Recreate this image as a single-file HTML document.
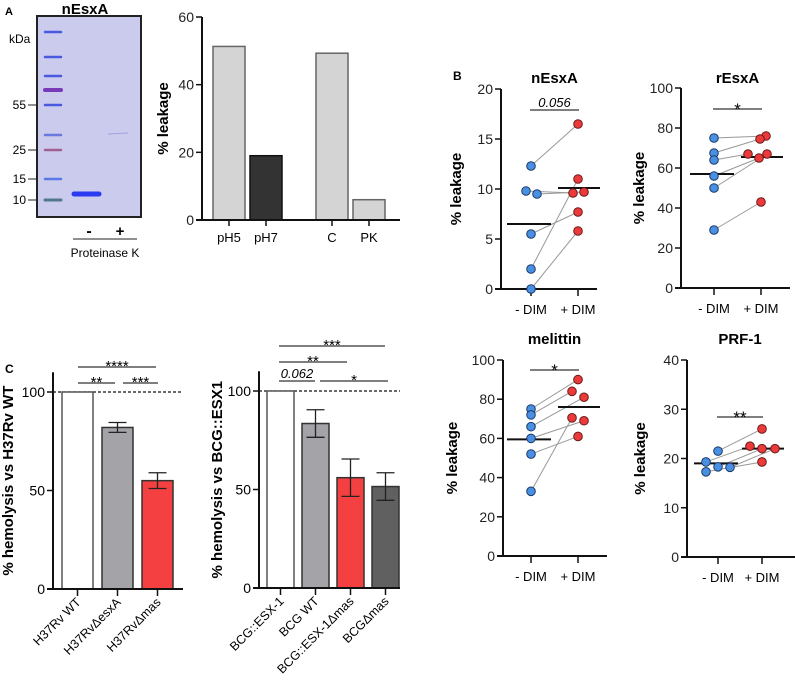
<!DOCTYPE html>
<html><head><meta charset="utf-8"><style>
body{margin:0;background:#fff}
svg{display:block;font-family:"Liberation Sans",Arial,sans-serif}
</style></head><body>
<svg id="fig" width="795" height="682" viewBox="0 0 795 682" xmlns="http://www.w3.org/2000/svg">
<g id="gel">
<text x="5" y="15" font-size="11" font-weight="bold">A</text>
<text x="85" y="14" font-size="15" font-weight="bold" text-anchor="middle">nEsxA</text>
<rect x="37" y="16" width="104" height="201" fill="#cbcbee" stroke="#222" stroke-width="2"/>
<text x="9" y="43" font-size="12">kDa</text>
<g stroke="#4a5ae0" stroke-width="2.5" stroke-linecap="round">
<line x1="45" y1="32" x2="61" y2="32"/><line x1="45" y1="57" x2="61" y2="57"/><line x1="45" y1="76" x2="61" y2="76"/>
<line x1="45" y1="90" x2="61" y2="90" stroke="#7a3ab8" stroke-width="4"/><line x1="45" y1="105" x2="61" y2="105"/>
<line x1="45" y1="135" x2="61" y2="135" stroke="#6a78e0"/><line x1="45" y1="150" x2="61" y2="150" stroke="#a06090"/>
<line x1="45" y1="179" x2="61" y2="179" stroke="#5a78e8"/><line x1="45" y1="200" x2="61" y2="200" stroke="#507890" stroke-width="3"/>
</g>
<line x1="74" y1="194" x2="99" y2="194" stroke="#2a3af0" stroke-width="5" stroke-linecap="round"/>
<line x1="108" y1="134" x2="128" y2="133" stroke="#a0a0e0" stroke-width="1"/>
<g font-size="12" text-anchor="end">
<text x="26" y="109">55</text><text x="26" y="154">25</text><text x="26" y="183">15</text><text x="26" y="204">10</text>
<g stroke="#222"><line x1="28" y1="105" x2="36" y2="105"/><line x1="28" y1="150" x2="36" y2="150"/><line x1="28" y1="179" x2="36" y2="179"/><line x1="28" y1="200" x2="36" y2="200"/></g>
</g>
<text x="89" y="236" font-size="16" font-weight="bold" text-anchor="middle">-</text>
<text x="120" y="236" font-size="15" font-weight="bold" text-anchor="middle">+</text>
<line x1="73" y1="239" x2="137" y2="239" stroke="#222"/>
<text x="105" y="257" font-size="12" text-anchor="middle">Proteinase K</text>
</g>
<g id="charts"></g>
</svg>
<script>
// Panel A bar chart
const aCats=["pH5","pH7","C","PK"];
const aVals=[51.3,19,49.3,6];
// Panel B
const bTitles=["nEsxA","rEsxA","melittin","PRF-1"];
const nMinus=[12.3,9.8,9.5,5.5,2,0];
const nPlus=[16.5,9.6,9.7,7.7,11,5.8];
const rMinus=[75,67.5,64,56,50,29];
const rPlus=[76,74.5,67,65,67,43];
const mMinus=[75,72,66,60,52,33];
const mPlus=[90,84,81,69,61,70.5];
const pMinus=[21.5,19.3,18.3,18.2,17.3];
const pPlus=[26,22.5,22,22,19.3];
const bMeans=[[6.5,10.1],[57,65.5],[59.5,76],[19,22]];
const bSig=["0.056","*","*","**"];
// Panel C
const cLeftCats=["H37Rv WT","H37RvΔesxA","H37RvΔmas"];
const cLeftVals=[100,82,55];
const cLeftErr=[0,2.5,4];
const cRightCats=["BCG::ESX-1","BCG WT","BCG::ESX-1Δmas","BCGΔmas"];
const cRightVals=[100,83.5,56,51.5];
const cRightErr=[0,7,9.5,7];

const NS="http://www.w3.org/2000/svg";
const root=document.getElementById('charts');
function el(tag,attrs,parent,text){const e=document.createElementNS(NS,tag);for(const k in attrs)e.setAttribute(k,attrs[k]);if(text!==undefined)e.textContent=text;(parent||root).appendChild(e);return e;}
function group(name){const g=el('g',{});


return g;}
function yAxis(g,x,y0,yTop,xEnd,ticks,scale,label,labelX){
  el('line',{x1:x,y1:y0,x2:x,y2:yTop,stroke:'#111','stroke-width':2},g);
  el('line',{x1:x-6,y1:y0,x2:xEnd,y2:y0,stroke:'#111','stroke-width':2},g);
  ticks.forEach(t=>{const y=scale(t);el('line',{x1:x-6,y1:y,x2:x,y2:y,stroke:'#111','stroke-width':1.5},g);
    el('text',{x:x-8,y:y+5,'font-size':14,'text-anchor':'end',fill:'#222'},g,t);});
  const cy=(y0+yTop)/2;
  const t=el('text',{x:labelX,y:cy,'font-size':15,'font-weight':'bold','text-anchor':'middle',transform:`rotate(-90 ${labelX} ${cy})`},g,label);
  
  
}
// ---- Panel A bars
(function(){
  const g=group('leakage-bar-chart');
  const y0=220,yT=17,sc=v=>y0-(y0-yT)*v/60;
  const xs=[213,250,316,353],w=32;
  aVals.forEach((v,i)=>{const r=el('rect',{x:xs[i],y:sc(v),width:w,height:y0-sc(v),fill:i==1?'#333':'#d4d4d4',stroke:i==1?'#111':'#666','stroke-width':1.5},g);
    
    
    el('line',{x1:xs[i]+w/2,y1:y0,x2:xs[i]+w/2,y2:y0+6,stroke:'#111','stroke-width':1.5},g);
    el('text',{x:xs[i]+w/2,y:y0+22,'font-size':13,'text-anchor':'middle'},g,aCats[i]);});
  yAxis(g,202,y0,yT,400,[0,20,40,60],sc,'% leakage',168);
})();
// ---- Panel B
el('text',{x:453,y:80,'font-size':12,'font-weight':'bold'},root,'B');
function pairPlot(idx,cfg,minus,plus,jm,jp){
  const g=group('paired-plot-'+bTitles[idx].toLowerCase());
  const sc=v=>cfg.y0-(cfg.y0-cfg.yT)*v/cfg.max;
  const t=el('text',{x:(cfg.cx1+cfg.cx2)/2,y:cfg.titleY,'font-size':15,'font-weight':'bold','text-anchor':'middle'},g,bTitles[idx]);
  
  
  yAxis(g,cfg.ax,cfg.y0,cfg.yT,cfg.xEnd,cfg.ticks,sc,'% leakage',cfg.lx);
  [[cfg.cx1,'- DIM'],[cfg.cx2,'+ DIM']].forEach(([x,l])=>{el('line',{x1:x,y1:cfg.y0,x2:x,y2:cfg.y0+7,stroke:'#111','stroke-width':1.5},g);
    el('text',{x:x,y:cfg.y0+25,'font-size':13,'text-anchor':'middle'},g,l);});
  minus.forEach((v,i)=>{const l=el('line',{x1:cfg.cx1+jm[i],y1:sc(v),x2:cfg.cx2+jp[i],y2:sc(plus[i]),stroke:'#999','stroke-width':1},g);
    
    });
  const m=bMeans[idx];
  el('line',{x1:cfg.cx1-24,x2:cfg.cx1+20,y1:sc(m[0]),y2:sc(m[0]),stroke:'#111','stroke-width':2},g);
  el('line',{x1:cfg.cx2-20,x2:cfg.cx2+22,y1:sc(m[1]),y2:sc(m[1]),stroke:'#111','stroke-width':2},g);
  minus.forEach((v,i)=>{const c=el('circle',{cx:cfg.cx1+jm[i],cy:sc(v),r:4.3,fill:'#4a90e2',stroke:'#1a3a6a','stroke-width':1},g);
    
    });
  plus.forEach((v,i)=>{const c=el('circle',{cx:cfg.cx2+jp[i],cy:sc(v),r:4.3,fill:'#ec3a3a',stroke:'#6a1a1a','stroke-width':1},g);
    
    });
  el('line',{x1:cfg.cx1-1,x2:cfg.cx2+1,y1:cfg.sigY,y2:cfg.sigY,stroke:'#333','stroke-width':1.2},g);
  const isNum=/\d/.test(bSig[idx]);
  el('text',{x:(cfg.cx1+cfg.cx2)/2,y:cfg.sigY+(isNum?-3:6),'font-size':isNum?13:17,'font-style':isNum?'italic':'normal','text-anchor':'middle'},g,bSig[idx]);
}
pairPlot(0,{ax:501,y0:289,yT:89,max:20,xEnd:597,cx1:531,cx2:578,ticks:[0,5,10,15,20],lx:461,titleY:83,sigY:110},nMinus,nPlus,[0,-5,6,0,0,0],[0,-5,6,0,0,0]);
pairPlot(1,{ax:681,y0:288,yT:88,max:100,xEnd:790,cx1:714,cx2:761,ticks:[0,20,40,60,80,100],lx:644,titleY:83,sigY:109},rMinus,rPlus,[0,0,0,0,0,0],[5,-1,-13,-2,6,0]);
pairPlot(2,{ax:503,y0:556,yT:360,max:100,xEnd:607,cx1:531,cx2:578,ticks:[0,20,40,60,80,100],lx:457,titleY:344,sigY:370},mMinus,mPlus,[0,0,0,0,0,0],[0,-6,6,6,0,-6]);
pairPlot(3,{ax:687,y0:557,yT:360,max:40,xEnd:795,cx1:718,cx2:762,ticks:[0,10,20,30,40],lx:645,titleY:344,sigY:417},pMinus,pPlus,[0,-12,0,12,-12],[0,-12,0,13,0]);
// ---- Panel C
el('text',{x:5,y:373,'font-size':12,'font-weight':'bold'},root,'C');
function hemoPlot(name,cats,vals,errs,cfg,colors,sigs){
  const g=group(name);
  const sc=v=>cfg.y0-(cfg.y0-cfg.y100)*v/100;
  const yTop=cfg.y0-(cfg.y0-cfg.y100)*1.1;
  el('line',{x1:cfg.ax,x2:cfg.dashEnd,y1:sc(100),y2:sc(100),stroke:'#111','stroke-width':1.2,'stroke-dasharray':'3,2'},g);
  vals.forEach((v,i)=>{const x=cfg.x0+i*cfg.step;
    const r=el('rect',{x:x,y:sc(v),width:cfg.w,height:cfg.y0-sc(v),fill:colors[i],stroke:i==0?'#555':'#333','stroke-width':1.5},g);
    
    
    const cx=x+cfg.w/2;
    if(errs[i]>0){el('line',{x1:cx,x2:cx,y1:sc(v+errs[i]),y2:sc(v-errs[i]),stroke:'#222','stroke-width':1.3},g);
      [v+errs[i],v-errs[i]].forEach(e=>el('line',{x1:cx-9,x2:cx+9,y1:sc(e),y2:sc(e),stroke:'#222','stroke-width':1.3},g));}
    el('line',{x1:cx,x2:cx,y1:cfg.y0,y2:cfg.y0+7,stroke:'#111','stroke-width':1.5},g);
    const tx=cx+4,ty=cfg.y0+14;
    el('text',{x:tx,y:ty,'font-size':12.5,'text-anchor':'end',transform:`rotate(-45 ${tx} ${ty})`},g,cats[i]);});
  el('line',{x1:cfg.ax,y1:cfg.y0,x2:cfg.ax,y2:yTop,stroke:'#111','stroke-width':2},g);
  el('line',{x1:cfg.ax-6,y1:cfg.y0,x2:cfg.xEnd,y2:cfg.y0,stroke:'#111','stroke-width':2},g);
  [0,50,100].forEach(t=>{const y=sc(t);el('line',{x1:cfg.ax-6,x2:cfg.ax,y1:y,y2:y,stroke:'#111','stroke-width':1.5},g);
    el('text',{x:cfg.ax-8,y:y+5,'font-size':14,'text-anchor':'end'},g,t);});
  const cy=(cfg.y0+yTop)/2;
  el('text',{x:cfg.lx,y:cy,'font-size':15,'font-weight':'bold','text-anchor':'middle',transform:`rotate(-90 ${cfg.lx} ${cy})`},g,cfg.label);
  sigs.forEach(s=>{el('line',{x1:s[0],x2:s[1],y1:s[2],y2:s[2],stroke:'#333','stroke-width':1.2},g);
    const num=/\d/.test(s[3]);
    el('text',{x:(s[0]+s[1])/2,y:s[2]+(num?-3:4),'font-size':num?13:15,'font-style':num?'italic':'normal','text-anchor':'middle'},g,s[3]);});
}
hemoPlot('hemolysis-h37rv',cLeftCats,cLeftVals,cLeftErr,{ax:53,y0:589,y100:392,x0:62,step:40,w:31,dashEnd:183,xEnd:183,lx:13,label:'% hemolysis vs H37Rv WT'},['#fff','#a3a3a8','#f44040'],[[78,156,367,'****'],[78,115,383,'**'],[123,158,383,'***']]);
hemoPlot('hemolysis-bcg',cRightCats,cRightVals,cRightErr,{ax:259,y0:588,y100:391,x0:267,step:35,w:27,dashEnd:400,xEnd:400,lx:222,label:'% hemolysis vs BCG::ESX1'},['#fff','#a3a3a8','#f44040','#606060'],[[279,385,346,'***'],[279,347,362,'**'],[279,315,381,'0.062'],[320,388,381,'*']]);
</script>
</body></html>
